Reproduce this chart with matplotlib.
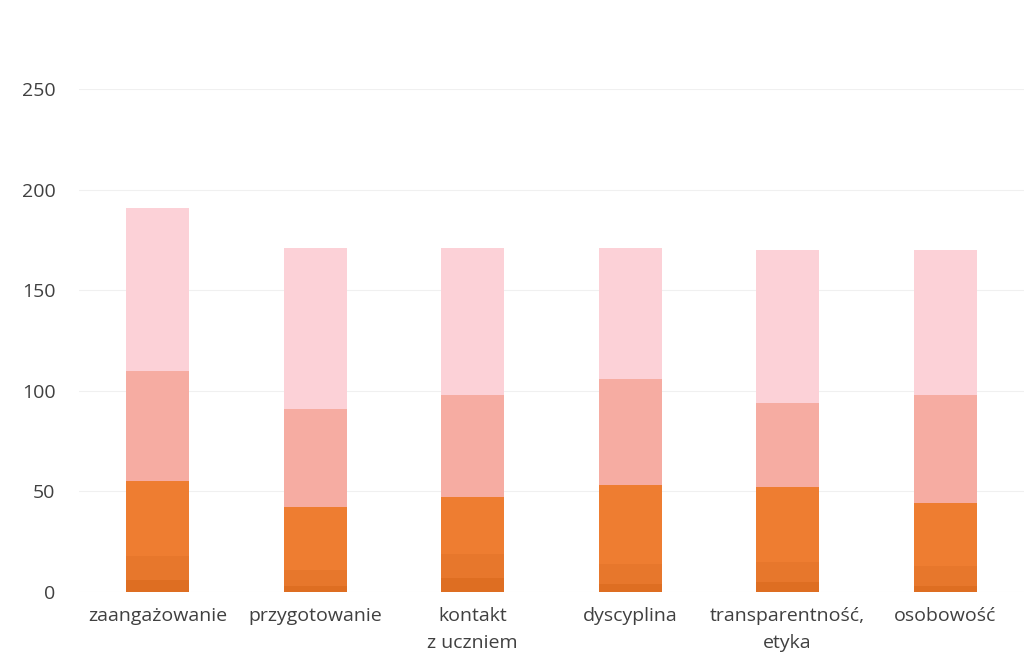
import matplotlib.pyplot as plt
import numpy as np

# DATA
categories = ['zaangażowanie', 'przygotowanie', 'kontakt\nz uczniem',
              'dyscyplina', 'transparentność,\netyka', 'osobowość']
seg1 = [6, 3, 7, 4, 5, 3]
seg2 = [12, 8, 12, 10, 10, 10]
seg3 = [37, 31, 28, 39, 37, 31]
seg4 = [55, 49, 51, 53, 42, 54]
seg5 = [81, 80, 73, 65, 76, 72]
colors = ['#DE6E22', '#E7772C', '#EE7D31', '#F6ACA2', '#FCD1D7']

plt.rcParams['font.family'] = ['Open Sans', 'DejaVu Sans']

fig = plt.figure(figsize=(10.35, 6.68), dpi=100)
ax = fig.add_axes([0.0763, 0.1138, 0.913, 0.753])

x = np.arange(len(categories))
bottom = np.zeros(len(categories))
for seg, c in zip([seg1, seg2, seg3, seg4, seg5], colors):
    ax.bar(x, seg, width=0.4, bottom=bottom, color=c, zorder=3)
    bottom += np.array(seg)

ax.set_ylim(0, 250)
ax.set_xlim(-0.5, len(categories) - 0.5)
ax.set_yticks(np.arange(0, 251, 50))
ax.set_xticks(x)
ax.set_xticklabels(categories, linespacing=1.6)
ax.yaxis.grid(True, color='#F0F0F0', linewidth=0.8, zorder=0)

for s in ax.spines.values():
    s.set_visible(False)
ax.tick_params(axis='y', length=0, pad=17, labelsize=14, labelcolor='#404040')
ax.tick_params(axis='x', length=0, pad=11, labelsize=14, labelcolor='#404040')

fig.savefig('out.png', dpi=100)
